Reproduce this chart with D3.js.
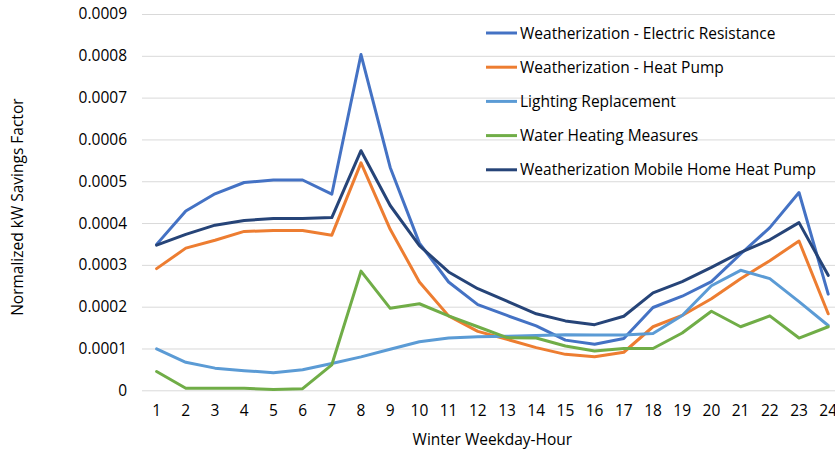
<!DOCTYPE html>
<html>
<head>
<meta charset="utf-8">
<script src="https://cdn.jsdelivr.net/npm/d3@7"></script>
<style>
  html, body { margin: 0; padding: 0; background: #fff; }
  svg { display: block; font-family: "Open Sans", sans-serif; }
</style>
</head>
<body>
<svg id="chart" width="835" height="450"></svg>
<script>
// Winter weekday hours 1..24
const hours = d3.range(1, 25).map(String);

const seriesNames = [
  "Weatherization - Electric Resistance",
  "Weatherization - Heat Pump",
  "Lighting Replacement",
  "Water Heating Measures",
  "Weatherization Mobile Home Heat Pump"
];

const seriesColors = ["#4472C4", "#ED7D31", "#5B9BD5", "#70AD47", "#264478"];

// Normalized kW savings factors by hour
const elecResistance = [0.000349, 0.000429, 0.000470, 0.000497, 0.000503, 0.000503, 0.000469, 0.000803,
  0.000533, 0.000352, 0.000259, 0.000205, 0.000179, 0.000154, 0.000120, 0.000110, 0.000124, 0.000198,
  0.000225, 0.000260, 0.000326, 0.000389, 0.000473, 0.000230];
const heatPump = [0.000291, 0.000340, 0.000359, 0.000380, 0.000382, 0.000382, 0.000371, 0.000544,
  0.000385, 0.000259, 0.000178, 0.000141, 0.000122, 0.000102, 0.000086, 0.000080, 0.000091, 0.000152,
  0.000179, 0.000219, 0.000267, 0.000310, 0.000357, 0.000183];
const lighting = [0.000099, 0.000067, 0.000053, 0.000047, 0.000042, 0.000049, 0.000064, 0.000080,
  0.000098, 0.000116, 0.000125, 0.000128, 0.000129, 0.000131, 0.000133, 0.000132, 0.000132, 0.000136,
  0.000179, 0.000250, 0.000287, 0.000267, 0.000212, 0.000155];
const waterHeating = [0.000045, 0.000005, 0.000005, 0.000005, 0.000002, 0.000004, 0.000061, 0.000285,
  0.000196, 0.000207, 0.000178, 0.000152, 0.000126, 0.000125, 0.000106, 0.000094, 0.000100, 0.000100,
  0.000137, 0.000189, 0.000152, 0.000178, 0.000125, 0.000152];
const mobileHome = [0.000347, 0.000373, 0.000395, 0.000406, 0.000411, 0.000411, 0.000413, 0.000573,
  0.000442, 0.000346, 0.000283, 0.000243, 0.000213, 0.000183, 0.000166, 0.000157, 0.000177, 0.000233,
  0.000260, 0.000294, 0.000330, 0.000360, 0.000401, 0.000275];

const yTicks = [0, 0.0001, 0.0002, 0.0003, 0.0004, 0.0005, 0.0006, 0.0007, 0.0008, 0.0009];
const yTickLabels = ["0", "0.0001", "0.0002", "0.0003", "0.0004", "0.0005", "0.0006", "0.0007", "0.0008", "0.0009"];

const seriesValues = [elecResistance, heatPump, lighting, waterHeating, mobileHome];

const svg = d3.select("#chart");
const W = 835, H = 450;
const plot = { left: 142, top: 14, bottom: 390.3, step: 29.2 };

const x = d3.scaleBand()
  .domain(hours)
  .range([plot.left, plot.left + plot.step * hours.length])
  .paddingInner(0).paddingOuter(0);

const y = d3.scaleLinear()
  .domain([0, 0.0009])
  .range([plot.bottom, plot.top]);

// Horizontal gridlines
const yAxis = d3.axisLeft(y)
  .tickValues(yTicks)
  .tickFormat((d, i) => yTickLabels[i])
  .tickSize(-(x.range()[1] - plot.left))
  .tickPadding(15);

const gy = svg.append("g")
  .attr("transform", `translate(${plot.left},0)`)
  .call(yAxis);
gy.select(".domain").remove();
gy.selectAll(".tick line").attr("stroke", "#D9D9D9").attr("stroke-width", 1);
gy.selectAll(".tick text")
  .attr("fill", "#000")
  .attr("font-size", 15.5)
  .attr("font-family", "Open Sans, sans-serif");

// Category axis labels
const xAxis = d3.axisBottom(x).tickSize(0).tickPadding(15);
const gx = svg.append("g")
  .attr("transform", `translate(0,${plot.bottom})`)
  .call(xAxis);
gx.select(".domain").remove();
gx.selectAll(".tick text")
  .attr("fill", "#000")
  .attr("font-size", 15.5)
  .attr("font-family", "Open Sans, sans-serif");

// Axis titles
svg.append("text")
  .attr("x", (plot.left + x.range()[1]) / 2)
  .attr("y", 445)
  .attr("text-anchor", "middle")
  .attr("font-size", 15.5)
  .attr("fill", "#000")
  .text("Winter Weekday-Hour");

svg.append("text")
  .attr("transform", `translate(23,${(plot.top + plot.bottom) / 2 + 5}) rotate(-90)`)
  .attr("text-anchor", "middle")
  .attr("font-size", 15.5)
  .attr("fill", "#000")
  .text("Normalized kW Savings Factor");

// Series lines
const line = d3.line()
  .x((d, i) => x(hours[i]) + x.bandwidth() / 2)
  .y(d => y(d));

svg.append("g")
  .selectAll("path")
  .data(seriesValues)
  .join("path")
  .attr("d", d => line(d))
  .attr("fill", "none")
  .attr("stroke", (d, i) => seriesColors[i])
  .attr("stroke-width", 3)
  .attr("stroke-linejoin", "round")
  .attr("stroke-linecap", "round");

// Legend
const legend = svg.append("g").attr("transform", "translate(486,33)");
const items = legend.selectAll("g")
  .data(seriesNames)
  .join("g")
  .attr("transform", (d, i) => `translate(0,${i * 34.2})`);
items.append("line")
  .attr("x1", 0).attr("x2", 31)
  .attr("y1", 0).attr("y2", 0)
  .attr("stroke", (d, i) => seriesColors[i])
  .attr("stroke-width", 3);
items.append("text")
  .attr("x", 34)
  .attr("y", 5.5)
  .attr("font-size", 15.5)
  .attr("fill", "#000")
  .text(d => d);
</script>
</body>
</html>
